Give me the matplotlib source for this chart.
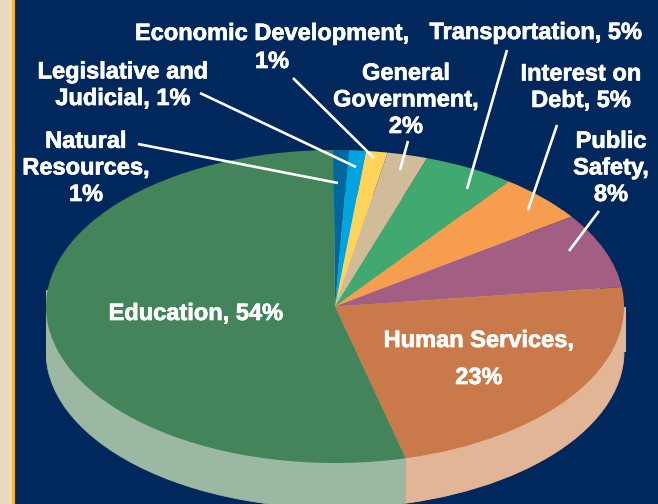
import numpy as np
import matplotlib
matplotlib.use("Agg")
import matplotlib.pyplot as plt
import matplotlib.patheffects as pe
from matplotlib.patches import Rectangle

W, H = 658, 504
NAVY = "#00285C"

# Clockwise from twelve o'clock
categories = ["Natural Resources", "Legislative and Judicial", "Economic Development",
              "General Government", "Transportation", "Interest on Debt",
              "Public Safety", "Human Services", "Education"]
shares = [0.85, 0.95, 1.2, 2.25, 5.1, 5.0, 7.75, 23.05, 53.85]
colors = ["#00689F", "#00A5E0", "#FFD45C", "#D2BB98", "#3FA970", "#F79D50",
          "#A25E83", "#CA7A4A", "#43845A"]
side_right = "#E2B597"
side_left = "#9BB8A2"

labels = ["Natural\nResources,\n1%", "Legislative and\nJudicial, 1%", "Economic Development,", "1%",
          "General\nGovernment,\n2%", "Transportation, 5%", "Interest on\nDebt, 5%",
          "Public\nSafety,\n8%", "Education, 54%", "Human Services,", "23%"]
# centre x and baseline y of the last line
label_xy = [(86, 201), (123, 105), (272, 40), (272, 68), (406, 133), (536, 39), (581, 107),
            (611, 201), (196, 320), (479, 347), (479, 384)]
leaders = [((138, 144), (338, 183)), ((200, 93), (356, 167)), ((293, 78), (374, 158)),
           ((408, 141), (400, 170)), ((507, 50), (467, 189)), ((557, 125), (528, 210)),
           ((599, 211), (569, 251))]

CX, CY, RX, RY, DEPTH = 335, 306.5, 289, 156.5, 45
START = 90.3

fig = plt.figure(figsize=(W / 100, H / 100), dpi=100, facecolor=NAVY)

def draw_pie(ax, cols, xlim=(-1, 1), seamless=False):
    wedges, _ = ax.pie(shares, colors=cols, startangle=START, counterclock=False, radius=1,
                       center=(0, 0), wedgeprops=dict(linewidth=0))
    ax.set_aspect("auto")
    ax.set_xlim(*xlim)
    ax.set_ylim(-1, 1)
    ax.patch.set_alpha(0)
    for w in wedges:
        w.set_clip_on(True)
        w.set_clip_path(ax.patch)
        if seamless:
            w.set_edgecolor(w.get_facecolor())
            w.set_linewidth(0.6)
    return wedges

def part_axes(x0, x1, cx, cy, rx, ry):
    """Axes whose x range (-1..1 units of the ellipse) is only x0..x1."""
    l = cx + x0 * rx
    r = cx + x1 * rx
    return fig.add_axes([l / W, 1 - (cy + ry) / H, (r - l) / W, 2 * ry / H])

bg = fig.add_axes([0, 0, 1, 1])
bg.set_xlim(0, W)
bg.set_ylim(H, 0)
bg.axis("off")
bg.add_patch(Rectangle((0, 0), 12, H, color="#EAD9C3", lw=0))
bg.add_patch(Rectangle((12, 0), 3, H, color="#FDB71A", lw=0))

# Side wall: the pie shifted down, split by a vertical line where Education begins
edu_start = np.deg2rad(sum(shares[:-1]) * 3.6 + (90 - START))
split_x = np.sin(edu_start)
left = part_axes(-1, split_x, CX, CY + DEPTH, RX, RY)
draw_pie(left, [side_left] * len(shares), xlim=(-1, split_x), seamless=True)
left.add_patch(Rectangle((-1, 0), split_x + 1, 61.5 / RY, color=side_left, lw=0))
right = part_axes(split_x, 1.007, CX, CY + DEPTH, RX, RY)
draw_pie(right, [side_right] * len(shares), xlim=(split_x, 1.007), seamless=True)
right.add_patch(Rectangle((split_x, 0), 1.007 - split_x, 44.5 / RY, color=side_right, lw=0))

top = part_axes(-1, 1, CX, CY, RX, RY)
draw_pie(top, colors)

ov = fig.add_axes([0, 0, 1, 1])
ov.set_xlim(0, W)
ov.set_ylim(H, 0)
ov.axis("off")
ov.patch.set_alpha(0)
for (a, b) in leaders:
    ov.plot([a[0], b[0]], [a[1], b[1]], color="white", lw=1.9, solid_capstyle="butt")
for t, (x, y) in zip(labels, label_xy):
    ov.text(x, y, t, color="white", ha="center", va="baseline", family="Liberation Sans",
            fontweight="bold", fontsize=17, linespacing=1.2, multialignment="center",
            path_effects=[pe.withStroke(linewidth=0.5, foreground="white")])

fig.savefig("out.png", dpi=100, facecolor=NAVY)
